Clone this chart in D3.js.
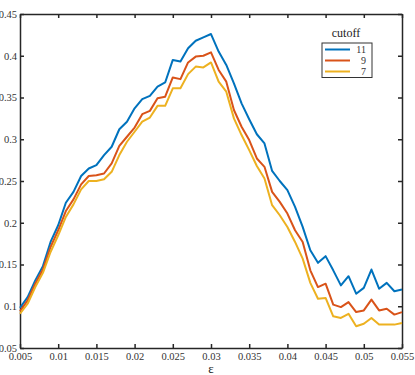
<!DOCTYPE html>
<html>
<head>
<meta charset="utf-8">
<script src="https://cdn.jsdelivr.net/npm/d3@7"></script>
<style>
  body { margin: 0; background: #fff; }
  text { font-family: "Liberation Serif", "DejaVu Serif", serif; }
</style>
</head>
<body>
<script>
// epsilon values, one point per 0.001
const eps = d3.range(51).map(i => +(0.005 + i * 0.001).toFixed(3));

const cutoff11 = [0.098, 0.111, 0.131, 0.148, 0.177, 0.197, 0.224, 0.237, 0.256, 0.265,
    0.269, 0.281, 0.291, 0.312, 0.321, 0.337, 0.348, 0.352, 0.363, 0.368,
    0.395, 0.393, 0.409, 0.418, 0.422, 0.426, 0.405, 0.389, 0.367, 0.343,
    0.324, 0.306, 0.295, 0.262, 0.250, 0.239, 0.219, 0.195, 0.167, 0.152,
    0.160, 0.143, 0.125, 0.136, 0.115, 0.122, 0.144, 0.121, 0.128, 0.118, 0.120];

const cutoff9 = [0.094, 0.107, 0.127, 0.144, 0.171, 0.191, 0.214, 0.228, 0.246, 0.256,
    0.257, 0.259, 0.271, 0.292, 0.303, 0.314, 0.330, 0.334, 0.349, 0.351,
    0.374, 0.372, 0.392, 0.399, 0.400, 0.404, 0.383, 0.369, 0.335, 0.315,
    0.299, 0.277, 0.267, 0.237, 0.225, 0.211, 0.191, 0.177, 0.143, 0.123,
    0.127, 0.102, 0.099, 0.105, 0.093, 0.095, 0.108, 0.095, 0.097, 0.090, 0.093];

const cutoff7 = [0.091, 0.103, 0.123, 0.140, 0.165, 0.185, 0.207, 0.222, 0.240, 0.250,
    0.250, 0.252, 0.261, 0.281, 0.297, 0.309, 0.321, 0.326, 0.340, 0.340,
    0.361, 0.361, 0.378, 0.387, 0.386, 0.392, 0.369, 0.357, 0.325, 0.305,
    0.287, 0.268, 0.253, 0.221, 0.209, 0.195, 0.177, 0.157, 0.128, 0.109,
    0.110, 0.088, 0.086, 0.091, 0.076, 0.079, 0.086, 0.078, 0.078, 0.078, 0.080];

const seriesNames = ["11", "9", "7"];
const seriesColors = ["#0072BD", "#D95319", "#EDB120"];
const xTicks = [0.005, 0.01, 0.015, 0.02, 0.025, 0.03, 0.035, 0.04, 0.045, 0.05, 0.055];
const yTicks = [0.05, 0.1, 0.15, 0.2, 0.25, 0.3, 0.35, 0.4, 0.45];

const W = 415, H = 375;
const margin = { top: 14, right: 13, bottom: 27, left: 20 };
const width = W - margin.left - margin.right,
      height = H - margin.top - margin.bottom;

const svg = d3.select("body").append("svg")
    .attr("width", W)
    .attr("height", H);

const g = svg.append("g").attr("transform", `translate(${margin.left},${margin.top})`);

const x = d3.scaleLinear().domain([0.005, 0.055]).range([0, width]);
const y = d3.scaleLinear().domain([0.05, 0.45]).range([height, 0]);

const fmt = d => String(+d.toFixed(3));
const axisColor = "#262626";

// axes with inward ticks, on all four sides
const axBottom = g.append("g")
    .attr("transform", `translate(0,${height})`)
    .call(d3.axisBottom(x).tickValues(xTicks).tickFormat(fmt).tickSizeInner(-4).tickSizeOuter(0).tickPadding(5));
const axLeft = g.append("g")
    .call(d3.axisLeft(y).tickValues(yTicks).tickFormat(fmt).tickSizeInner(-4).tickSizeOuter(0).tickPadding(3));
const axTop = g.append("g")
    .call(d3.axisTop(x).tickValues(xTicks).tickFormat("").tickSizeInner(-4).tickSizeOuter(0));
const axRight = g.append("g")
    .attr("transform", `translate(${width},0)`)
    .call(d3.axisRight(y).tickValues(yTicks).tickFormat("").tickSizeInner(-4).tickSizeOuter(0));

[axBottom, axLeft, axTop, axRight].forEach(a => {
    a.selectAll("path").attr("stroke", axisColor).attr("stroke-width", 1.5);
    a.selectAll("line").attr("stroke", axisColor).attr("stroke-width", 1.5);
    a.selectAll("text").attr("fill", "#333").style("font-size", "10.5px")
        .style("font-family", '"Liberation Serif", serif');
});

g.append("text")
    .attr("x", x(0.03))
    .attr("y", height + 25)
    .attr("text-anchor", "middle")
    .attr("fill", "#222")
    .style("font-size", "13px")
    .text("ε");

const line = d3.line()
    .x((d, i) => x(eps[i]))
    .y(d => y(d));

[cutoff11, cutoff9, cutoff7].forEach((s, k) => {
    g.append("path")
        .datum(s)
        .attr("fill", "none")
        .attr("stroke", seriesColors[k])
        .attr("stroke-width", 2)
        .attr("stroke-linejoin", "round")
        .attr("d", line);
});

// legend
const lx = 322 - margin.left, ly = 43 - margin.top;
const legend = g.append("g").attr("transform", `translate(${lx},${ly})`);
legend.append("text")
    .attr("x", 24)
    .attr("y", -6)
    .attr("text-anchor", "middle")
    .attr("fill", "#222")
    .style("font-size", "12px")
    .text("cutoff");
legend.append("rect")
    .attr("width", 50)
    .attr("height", 34.5)
    .attr("fill", "#fff")
    .attr("stroke", "#333")
    .attr("stroke-width", 1);
seriesNames.forEach((name, k) => {
    const yy = 6.5 + k * 11;
    legend.append("line")
        .attr("x1", 3).attr("x2", 28)
        .attr("y1", yy).attr("y2", yy)
        .attr("stroke", seriesColors[k])
        .attr("stroke-width", 2);
    legend.append("text")
        .attr("x", 44)
        .attr("y", yy + 3.5)
        .attr("text-anchor", "end")
        .attr("fill", "#333")
        .style("font-size", "10px")
        .text(name);
});
</script>
</body>
</html>
